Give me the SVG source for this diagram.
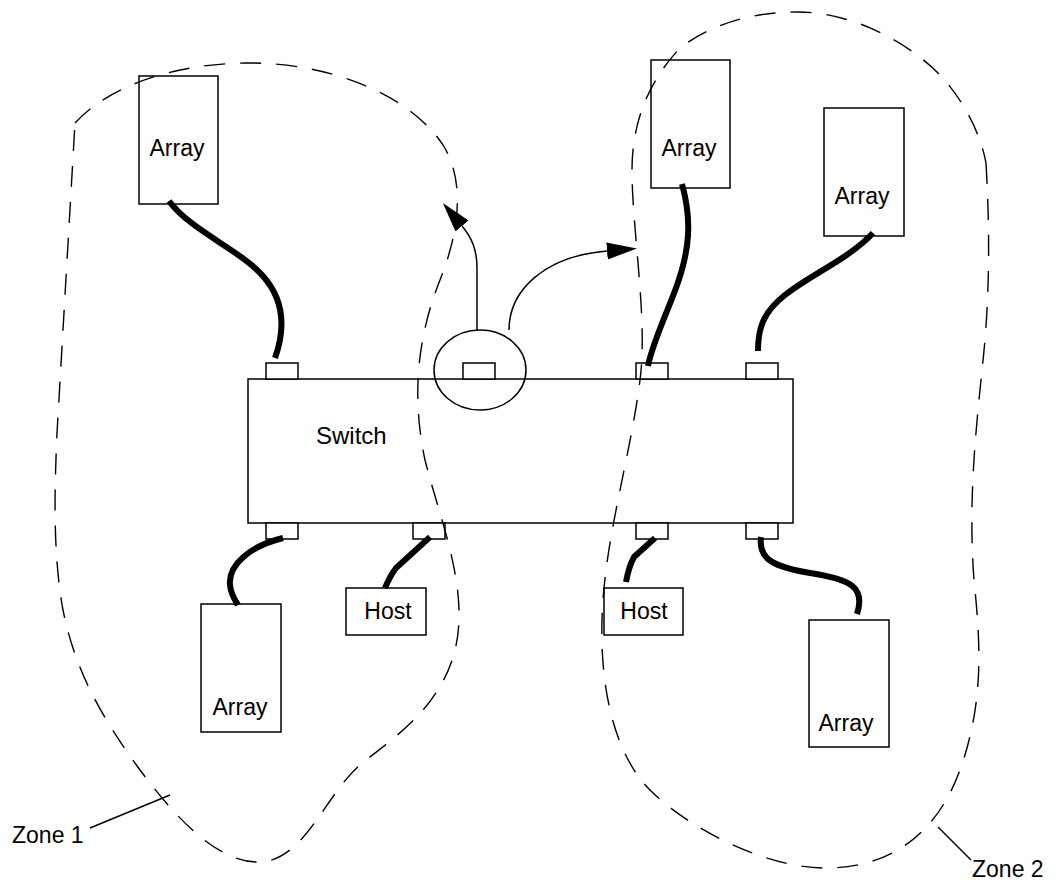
<svg xmlns="http://www.w3.org/2000/svg" width="1062" height="882" viewBox="0 0 1062 882">
<style>
  .box{fill:#fff;stroke:#000;stroke-width:1.5}
  .port{fill:#fff;stroke:#000;stroke-width:1.5}
  .lbl{font-family:"Liberation Sans",Arial,sans-serif;font-size:23px;fill:#000}
  .zone{fill:none;stroke:#000;stroke-width:1.4;stroke-dasharray:21 15}
  .cable{fill:none;stroke:#000;stroke-width:6;stroke-linecap:butt}
  .thin{fill:none;stroke:#000;stroke-width:1.5}
</style>
<defs>
  <marker id="ah" markerUnits="userSpaceOnUse" markerWidth="31" markerHeight="18" refX="0" refY="8.5" orient="auto">
    <path d="M0,0 L30,8.5 L0,17 Z" fill="#000"/>
  </marker>
</defs>
<rect width="1062" height="882" fill="#fff"/>

<g id="switch">
  <rect class="box" x="248" y="379" width="545" height="144"/>
  <rect class="port" x="266" y="363" width="32" height="16"/>
  <rect class="port" x="463" y="363" width="32" height="16"/>
  <rect class="port" x="636" y="363" width="32" height="16"/>
  <rect class="port" x="746" y="363" width="32" height="16"/>
  <rect class="port" x="266" y="523" width="32" height="16"/>
  <rect class="port" x="413" y="523" width="32" height="16"/>
  <rect class="port" x="636" y="523" width="32" height="16"/>
  <rect class="port" x="746" y="523" width="32" height="16"/>
  <text class="lbl" x="316" y="444" style="font-size:24px">Switch</text>
</g>

<g id="array1">
  <rect class="box" x="139" y="76" width="79" height="128"/>
  <text class="lbl" x="177" y="156" text-anchor="middle">Array</text>
</g>
<g id="array2">
  <rect class="box" x="651" y="60" width="79" height="128"/>
  <text class="lbl" x="689" y="156" text-anchor="middle">Array</text>
</g>
<g id="array3">
  <rect class="box" x="824" y="108" width="80" height="128"/>
  <text class="lbl" x="862" y="204" text-anchor="middle">Array</text>
</g>
<g id="array4">
  <rect class="box" x="201" y="604" width="80" height="128"/>
  <text class="lbl" x="240" y="715" text-anchor="middle">Array</text>
</g>
<g id="array5">
  <rect class="box" x="809" y="620" width="80" height="127"/>
  <text class="lbl" x="846" y="731" text-anchor="middle">Array</text>
</g>
<g id="host1">
  <rect class="box" x="346" y="588" width="80" height="47"/>
  <text class="lbl" x="388" y="619" text-anchor="middle">Host</text>
</g>
<g id="host2">
  <rect class="box" x="604" y="588" width="79" height="47"/>
  <text class="lbl" x="644" y="619" text-anchor="middle">Host</text>
</g>

<g id="highlight">
  <ellipse class="thin" cx="480" cy="370" rx="46" ry="40"/>
</g>

<g id="connectors">
  <path class="cable" d="M169,201 C190,230 240,250 262,275 C285,300 285,330 275,358"/>
  <path class="cable" d="M682,184 C692,220 690,250 676,288 C664,320 652,345 648,366"/>
  <path class="cable" d="M873,233 C850,258 810,275 785,295 C762,313 758,330 758,351"/>
  <path class="cable" d="M283,538 C250,546 228,565 230,585 C231,595 235,600 238,605"/>
  <path class="cable" d="M430,537 L396,568 Q390,576 385,588"/>
  <path class="cable" d="M655,538 L634,557 Q629,566 626,582"/>
  <path class="cable" d="M761,537 C758,560 775,567 810,573 C850,579 866,587 857,614"/>
  <path class="thin" d="M477,330 L477,268 C477,250 472,238 462,226" marker-end="url(#ah)"/>
  <path class="thin" d="M509,330 C509,290 545,256 607,251" marker-end="url(#ah)"/>
</g>

<g id="zone1">
  <path class="zone" d="M75,123 C110,85 175,64 245,63 C330,62 410,95 443,145 C465,180 460,230 440,280 C420,330 410,390 425,460 C440,520 470,590 455,650 C440,710 390,740 360,765 C325,795 305,860 260,862 C215,864 170,810 140,770 C100,715 75,670 63,610 C52,550 55,480 57,433 L75,123"/>
  <line class="thin" x1="90" y1="828" x2="170" y2="795"/>
  <text class="lbl" x="12" y="843">Zone 1</text>
</g>
<g id="zone2">
  <path class="zone" d="M986,163 C990,230 990,300 982,370 C976,430 968,500 974,580 C980,640 985,700 960,770 C940,825 900,866 830,868 C770,870 690,830 650,790 C615,755 600,690 602,620 C604,540 630,460 640,380 C648,320 632,230 632,170 C632,120 650,80 680,48 C710,25 750,12 798,12 C850,12 905,40 938,73 C960,95 980,130 986,163"/>
  <line class="thin" x1="938" y1="827" x2="971" y2="860"/>
  <text class="lbl" x="972" y="877">Zone 2</text>
</g>
</svg>
